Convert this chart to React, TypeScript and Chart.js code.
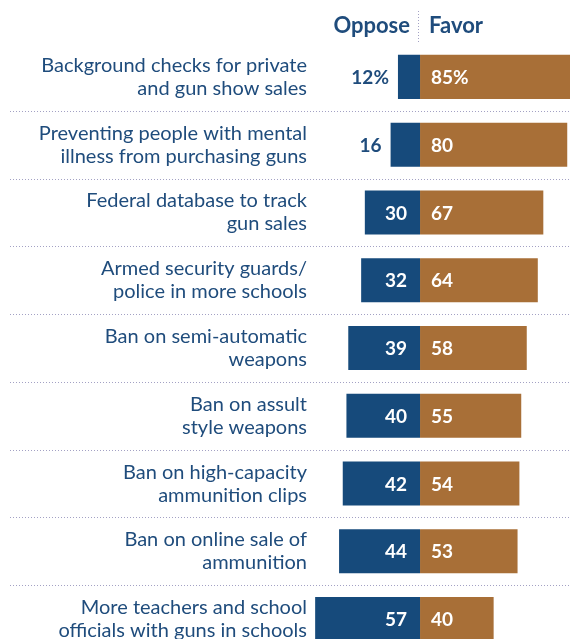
import React, { useEffect, useRef } from "react";
import { Chart, registerables } from "chart.js";

Chart.register(...registerables);

const categories: string[][] = [
  ["Background checks for private", "and gun show sales"],
  ["Preventing people with mental", "illness from purchasing guns"],
  ["Federal database to track", "gun sales"],
  ["Armed security guards/", "police in more schools"],
  ["Ban on semi-automatic", "weapons"],
  ["Ban on assult", "style weapons"],
  ["Ban on high-capacity", "ammunition clips"],
  ["Ban on online sale of", "ammunition"],
  ["More teachers and school", "officials with guns in schools"],
];
const oppose: number[] = [12, 16, 30, 32, 39, 40, 42, 44, 57];
const favor: number[] = [85, 80, 67, 64, 58, 55, 54, 53, 40];
const opposeLabels: string[] = ["12%", "16", "30", "32", "39", "40", "42", "44", "57"];
const favorLabels: string[] = ["85%", "80", "67", "64", "58", "55", "54", "53", "40"];

const BLUE = "#164a7b";
const BROWN = "#a86f37";
const TEXT = "#1f4c7c";
const DOT = "#a3a1c4";
const FONT = "Lato, 'Open Sans', sans-serif";

export default function App() {
  const ref = useRef<HTMLCanvasElement | null>(null);
  useEffect(() => {
    if (!ref.current) return;
    const overlay = {
      id: "overlay",
      beforeDatasetsDraw(chart: any) {
        const ctx = chart.ctx;
        const y = chart.scales.y;
        ctx.save();
        ctx.strokeStyle = DOT;
        ctx.lineWidth = 1;
        ctx.setLineDash([1, 2]);
        for (let i = 0; i < categories.length - 1; i++) {
          const py = Math.round((y.getPixelForValue(i) + y.getPixelForValue(i + 1)) / 2) + 0.5;
          ctx.beginPath();
          ctx.moveTo(10, py);
          ctx.lineTo(570, py);
          ctx.stroke();
        }
        const cx = chart.scales.x.getPixelForValue(0);
        ctx.beginPath();
        ctx.moveTo(Math.round(cx) - 1.5, 11);
        ctx.lineTo(Math.round(cx) - 1.5, 43);
        ctx.stroke();
        ctx.setLineDash([]);
        ctx.fillStyle = TEXT;
        ctx.font = `bold 22px ${FONT}`;
        ctx.textBaseline = "middle";
        ctx.textAlign = "right";
        ctx.fillText("Oppose", cx - 10, 26);
        ctx.textAlign = "left";
        ctx.fillText("Favor", cx + 9, 26);
        ctx.restore();
      },
      afterDatasetsDraw(chart: any) {
        const ctx = chart.ctx;
        ctx.save();
        ctx.font = `bold 19px ${FONT}`;
        ctx.textBaseline = "middle";
        const m0 = chart.getDatasetMeta(0);
        const m1 = chart.getDatasetMeta(1);
        m0.data.forEach((el: any, i: number) => {
          if (oppose[i] < 20) {
            ctx.fillStyle = TEXT;
            ctx.textAlign = "right";
            ctx.fillText(opposeLabels[i], el.x - 9, el.y + 1);
          } else {
            ctx.fillStyle = "#ffffff";
            ctx.textAlign = "right";
            ctx.fillText(opposeLabels[i], el.base - 13, el.y + 1);
          }
        });
        m1.data.forEach((el: any, i: number) => {
          ctx.fillStyle = "#ffffff";
          ctx.textAlign = "left";
          ctx.fillText(favorLabels[i], el.base + 11, el.y + 1);
        });
        ctx.restore();
      },
    };
    const chart = new Chart(ref.current, {
      type: "bar",
      data: {
        labels: categories,
        datasets: [
          { label: "Oppose", data: oppose.map((v) => -v), backgroundColor: BLUE, borderWidth: 0 },
          { label: "Favor", data: favor, backgroundColor: BROWN, borderWidth: 0 },
        ],
      },
      options: {
        indexAxis: "y",
        animation: false,
        responsive: false,
        maintainAspectRatio: false,
        layout: { padding: { top: 43, bottom: 0, left: 0, right: 0 } },
        plugins: { legend: { display: false }, tooltip: { enabled: false } },
        datasets: { bar: { barPercentage: 1, categoryPercentage: 0.65 } },
        scales: {
          x: {
            stacked: true,
            display: false,
            min: -59.8,
            max: 81.5,
          },
          y: {
            stacked: true,
            grid: { display: false, drawTicks: false },
            border: { display: false },
            ticks: {
              color: TEXT,
              font: { family: FONT, size: 20, lineHeight: 1.15 },
              padding: 3,
            },
            afterFit: (scale: any) => {
              scale.width = 310;
              scale.paddingBottom = 0;
              scale.paddingTop = 0;
            },
          },
        },
      },
      plugins: [overlay],
    });
    return () => chart.destroy();
  }, []);
  return (
    <div style={{ position: "absolute", left: 0, top: 0, width: 570, height: 639, overflow: "hidden", background: "#fff" }}>
      <canvas ref={ref} width={570} height={653} style={{ width: 570, height: 653, display: "block" }} />
    </div>
  );
}
